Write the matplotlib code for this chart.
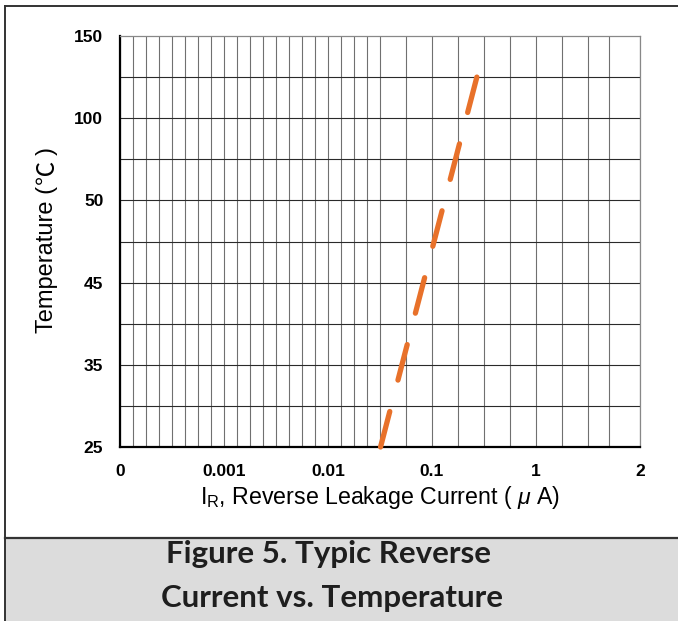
import numpy as np
import matplotlib.pyplot as plt
from matplotlib.patches import Rectangle
from matplotlib.lines import Line2D

plt.rcParams['font.family'] = ['Liberation Sans', 'Noto Sans CJK SC', 'DejaVu Sans']
plt.rcParams['mathtext.fontset'] = 'custom'
plt.rcParams['mathtext.rm'] = 'Liberation Sans'
plt.rcParams['mathtext.it'] = 'Liberation Sans:italic'

# tick labels as printed on the chart
x_labels = ['0', '0.001', '0.01', '0.1', '1', '2']
y_labels = ['25', '35', '45', '50', '100', '150']

# curve
current_uA = [0.032, 0.27]
temp_C = [25, 125]

W, H = 678, 621


def x_pos(i):
    # log scale between the labelled decades
    vals = np.log10([0.001, 0.01, 0.1, 1, 2])
    return np.interp(np.log10(i), vals, [1, 2, 3, 4, 5])


def y_pos(t):
    return np.interp(t, [25, 35, 45, 50, 100, 150], [0, 1, 2, 3, 4, 5])


fig = plt.figure(figsize=(W / 100, H / 100), dpi=100)
ax = fig.add_axes([120 / W, (H - 447) / H, 520 / W, 411 / H])

# vertical grid: fine lines below 0.1, coarser above
xgrid = list(np.arange(0, 21) / 8) + list(np.arange(2.75, 4.51, 0.25)) + [4.7, 5.0]
for g in xgrid:
    ax.axvline(g, color='#707070', lw=0.8, zorder=1)
for g in np.arange(0.5, 5.0, 0.5):
    ax.axhline(g, color='#2a2a2a', lw=0.8, zorder=1)

ax.plot(x_pos(current_uA), y_pos(temp_C), color='#E8712A', lw=3.8,
        dashes=(6.95, 6.15), dash_capstyle='round', zorder=3, clip_on=False)

ax.set_xlim(0, 5)
ax.set_ylim(0, 5)
ax.set_xticks(range(6))
ax.set_xticklabels(x_labels, fontsize=12.5, fontweight='bold')
ax.set_yticks(range(6))
ax.set_yticklabels(y_labels, fontsize=12.5, fontweight='bold')
ax.tick_params(length=0, pad=12)

for s in ['left', 'bottom']:
    ax.spines[s].set_color('black')
    ax.spines[s].set_linewidth(1.6)
for s in ['top', 'right']:
    ax.spines[s].set_color('#888888')
    ax.spines[s].set_linewidth(0.9)

ax.set_xlabel(r'I$_\mathregular{R}$, Reverse Leakage Current ( $\mu$ A)', fontsize=16.7, labelpad=4)

# y label, pieced together so the degree sign gets its wide spacing
ylab_x = 47 / W
fig.text(ylab_x, (H - 333) / H, 'Temperature (', rotation=90,
         ha='center', va='bottom', fontsize=17)
fig.text(ylab_x, (H - 172) / H, '\u2103', rotation=90, ha='center', va='center',
         fontsize=17.5, family=['Noto Sans CJK SC', 'Liberation Sans'])
fig.text(ylab_x, (H - 151) / H, ')', rotation=90, ha='center', va='center', fontsize=17)

# outer frame and caption box
fig.add_artist(Line2D([4.5 / W, 4.5 / W], [0, 1 - 6 / H], color='#333333', lw=1.4))
fig.add_artist(Line2D([4.5 / W, 1], [1 - 6 / H, 1 - 6 / H], color='#333333', lw=1.4))
fig.add_artist(Rectangle((5 / W, 0), 1, (H - 538) / H, facecolor='#DCDCDC',
                         edgecolor='none', transform=fig.transFigure))
fig.add_artist(Line2D([4.5 / W, 1], [(H - 538) / H] * 2, color='#333333', lw=1.6))

fig.text(329 / W, (H - 554) / H, 'Figure 5. Typic Reverse', ha='center', va='center',
         fontsize=22.5, fontweight='bold', family='Lato', color='#1e1e1e')
fig.text(332 / W, (H - 598) / H, 'Current vs. Temperature', ha='center', va='center',
         fontsize=22.5, fontweight='bold', family='Lato', color='#1e1e1e')

fig.savefig('out.png', dpi=100)
